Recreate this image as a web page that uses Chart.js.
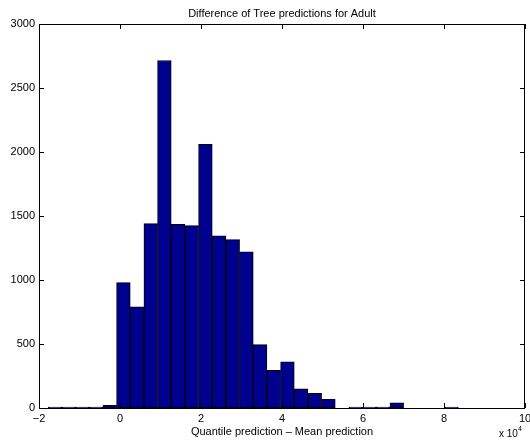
<!DOCTYPE html>
<html>
<head>
<meta charset="utf-8">
<script src="https://cdn.jsdelivr.net/npm/chart.js@4.4.1/dist/chart.umd.min.js"></script>
<style>
  html, body { margin: 0; padding: 0; background: #fff; }
  #wrap { width: 530px; height: 440px; }
</style>
</head>
<body>
<div id="wrap"><canvas id="hist" width="530" height="440"></canvas></div>
<script>
// histogram bins (x in units of 10^4), 30 bins
const binCenters = [
  -1.604, -1.266, -0.929, -0.591, -0.254, 0.084, 0.421, 0.759, 1.096, 1.434,
   1.771,  2.109,  2.446,  2.784,  3.121, 3.459, 3.796, 4.134, 4.471, 4.809,
   5.146,  5.484,  5.821,  6.159,  6.496, 6.834, 7.171, 7.509, 7.846, 8.184
];
const binCounts = [
  2, 4, 4, 5, 20, 980, 790, 1440, 2715, 1435,
  1425, 2060, 1345, 1315, 1220, 495, 295, 360, 150, 115,
  68, 0, 2, 4, 4, 40, 0, 0, 0, 2
];
const xTicks = [-2, 0, 2, 4, 6, 8, 10];
const yTicks = [0, 500, 1000, 1500, 2000, 2500, 3000];

const chartTitle = 'Difference of Tree predictions for Adult';
const xTitle = 'Quantile prediction \u2013 Mean prediction';

const FONT = "'Liberation Sans', Arial, Helvetica, sans-serif";

// box, inward ticks on all sides, title and the x 10^4 note (matlab look)
const matlabFrame = {
  id: 'matlabFrame',
  afterDatasetsDraw(chart) {
    const { ctx, chartArea: a, scales: { x, y } } = chart;
    const tl = 5;
    ctx.save();
    ctx.strokeStyle = '#000';
    ctx.lineWidth = 1;
    ctx.beginPath();
    x.ticks.forEach(t => {
      const px = Math.round(x.getPixelForValue(t.value)) + 0.5;
      ctx.moveTo(px, a.bottom); ctx.lineTo(px, a.bottom - tl);
      ctx.moveTo(px, a.top); ctx.lineTo(px, a.top + tl);
    });
    y.ticks.forEach(t => {
      const py = Math.round(y.getPixelForValue(t.value)) + 0.5;
      ctx.moveTo(a.left, py); ctx.lineTo(a.left + tl, py);
      ctx.moveTo(a.right, py); ctx.lineTo(a.right - tl, py);
    });
    ctx.stroke();
    ctx.strokeRect(a.left + 0.5, a.top + 0.5, a.right - a.left - 1, a.bottom - a.top);
    ctx.restore();
  },
  afterDraw(chart) {
    const { ctx, chartArea: a } = chart;
    ctx.save();
    ctx.fillStyle = '#000';
    ctx.font = '11px ' + FONT;
    ctx.textAlign = 'center';
    ctx.textBaseline = 'middle';
    ctx.fillText(chartTitle, (a.left + a.right) / 2, 13.5);
    // x 10^4
    ctx.textAlign = 'left';
    ctx.font = '10px ' + FONT;
    ctx.fillText('x 10', 499, 434);
    ctx.font = '7px ' + FONT;
    ctx.fillText('4', 518, 429);
    ctx.restore();
  }
};

const ctx = document.getElementById('hist');
new Chart(ctx, {
  type: 'bar',
  data: {
    datasets: [{
      data: binCenters.map((c, i) => ({ x: c, y: binCounts[i] === 0 ? null : binCounts[i] })),
      backgroundColor: '#00008F',
      borderColor: '#000',
      borderWidth: 1,
      borderSkipped: false,
      barPercentage: 1.0,
      categoryPercentage: 1.0,
      minBarLength: 1
    }]
  },
  options: {
    responsive: false,
    animation: false,
    events: [],
    layout: { padding: { top: 24, right: 5, bottom: 0, left: 0 } },
    plugins: {
      legend: { display: false },
      title: { display: false },
      tooltip: { enabled: false }
    },
    scales: {
      x: {
        type: 'linear',
        min: -2,
        max: 10,
        offset: false,
        grid: { display: false, drawTicks: false },
        border: { display: false },
        afterBuildTicks: (s) => { s.ticks = xTicks.map(v => ({ value: v })); },
        afterFit: (s) => { s.height = 32; s.paddingLeft = 0; s.paddingRight = 0; },
        ticks: {
          padding: 4,
          color: '#000',
          font: { family: FONT, size: 11 },
          maxRotation: 0,
          callback: (v) => String(v).replace('-', '\u2212')
        },
        title: {
          display: true,
          text: xTitle,
          color: '#000',
          font: { family: FONT, size: 11 },
          padding: { top: 0, bottom: 1 }
        }
      },
      y: {
        min: 0,
        max: 3000,
        grid: { display: false, drawTicks: false },
        border: { display: false },
        afterBuildTicks: (s) => { s.ticks = yTicks.map(v => ({ value: v })); },
        afterFit: (s) => { s.width = 39; s.paddingTop = 0; s.paddingBottom = 0; },
        ticks: {
          padding: 4,
          color: '#000',
          font: { family: FONT, size: 11 },
          callback: (v) => String(v)
        }
      }
    }
  },
  plugins: [matlabFrame]
});
</script>
</body>
</html>
